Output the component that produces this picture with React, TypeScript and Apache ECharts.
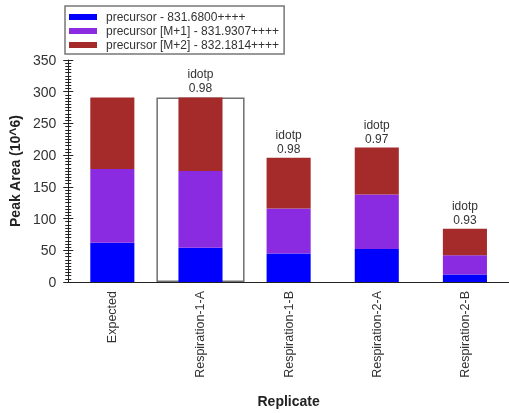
import React, { useEffect, useRef } from "react";
import * as echarts from "echarts";

const categories = ["Expected", "Respiration-1-A", "Respiration-1-B", "Respiration-2-A", "Respiration-2-B"];
const seriesNames = [
  "precursor - 831.6800++++",
  "precursor [M+1] - 831.9307++++",
  "precursor [M+2] - 832.1814++++",
];
const precursor = [62, 54, 45, 52, 12];
const precursorM1 = [116, 121, 71, 86, 30];
const precursorM2 = [113, 116, 80, 74, 42];
const idotp: (string | null)[] = [null, "0.98", "0.98", "0.97", "0.93"];
const selectedIndex = 1;
const yTicks = { min: 0, max: 350, interval: 50 };
const colors = ["#0000FF", "#8A2BE2", "#A52A2A"];

export default function App() {
  const ref = useRef<HTMLDivElement>(null);
  useEffect(() => {
    if (!ref.current) return;
    const chart = echarts.init(ref.current, undefined, { renderer: "svg" });
    const totals = categories.map((_, i) => precursor[i] + precursorM1[i] + precursorM2[i]);
    const boxData = categories.map((_, i) => (i === selectedIndex ? totals[i] : null));
    const font = "Liberation Sans, Arial, sans-serif";
    const stackSeries = [precursor, precursorM1, precursorM2].map((d, si) => ({
      name: seriesNames[si],
      type: "bar",
      stack: "total",
      xAxisIndex: 0,
      yAxisIndex: 0,
      barWidth: "50%",
      z: 3,
      itemStyle: { color: colors[si] },
      data: d.map((v, i) =>
        si === 2
          ? {
              value: v,
              label: {
                show: idotp[i] != null,
                position: "top",
                distance: 2,
                formatter: "idotp\n" + (idotp[i] ?? ""),
                color: "#333",
                fontSize: 12,
                lineHeight: 14,
                fontFamily: font,
              },
            }
          : v
      ),
    }));
    chart.setOption({
      animation: false,
      textStyle: { fontFamily: font },
      legend: {
        orient: "vertical",
        left: 65,
        top: 6,
        data: seriesNames,
        icon: "rect",
        itemWidth: 28,
        itemHeight: 6,
        itemGap: 0,
        padding: [4, 5, 2, 4],
        borderColor: "#777",
        borderWidth: 1.5,
        backgroundColor: "#fff",
        selectedMode: false,
        textStyle: { fontSize: 12, lineHeight: 14, color: "#333", fontFamily: font, padding: [0, 0, 0, 4] },
      },
      grid: { left: 64, right: 0, top: 60, bottom: 123, containLabel: false },
      xAxis: [
        {
          type: "category",
          data: categories,
          name: "Replicate",
          nameLocation: "middle",
          nameGap: 112,
          nameTextStyle: { fontWeight: "bold", fontSize: 14, color: "#222", fontFamily: font },
          axisLine: { lineStyle: { color: "#222", width: 1 } },
          axisTick: { alignWithLabel: true, length: 6, lineStyle: { color: "#222" } },
          axisLabel: { rotate: 90, fontSize: 12.5, color: "#333", margin: 9, fontFamily: font, interval: 0 },
        },
        {
          type: "category",
          data: categories,
          show: false,
        },
      ],
      yAxis: [
        {
          type: "value",
          min: yTicks.min,
          max: yTicks.max,
          interval: yTicks.interval,
          position: "left",
          name: "Peak Area (10^6)",
          nameLocation: "middle",
          nameGap: 46,
          nameTextStyle: { fontWeight: "bold", fontSize: 14, color: "#222", fontFamily: font },
          axisLine: { show: true, lineStyle: { color: "#222" } },
          axisTick: { show: true, length: 5, lineStyle: { color: "#222" } },
          minorTick: { show: true, splitNumber: 10, length: 3, lineStyle: { color: "#222" } },
          axisLabel: { fontSize: 14, color: "#333", margin: 12, fontFamily: font },
          splitLine: { show: false },
        },
        {
          type: "value",
          min: yTicks.min,
          max: yTicks.max,
          interval: yTicks.interval,
          position: "left",
          axisLine: { show: false },
          axisTick: { show: true, inside: true, length: 5, lineStyle: { color: "#222" } },
          minorTick: { show: true, splitNumber: 10, length: 3, lineStyle: { color: "#222" } },
          axisLabel: { show: false },
          splitLine: { show: false },
        },
      ],
      series: [
        {
          name: "selected",
          type: "bar",
          xAxisIndex: 1,
          yAxisIndex: 0,
          barWidth: "100%",
          z: 1,
          itemStyle: { color: "#fff", borderColor: "#707070", borderWidth: 1.5 },
          data: boxData,
        },
        ...stackSeries,
      ],
    });
    return () => chart.dispose();
  }, []);
  return <div ref={ref} style={{ position: "fixed", left: 0, top: 0, width: 509, height: 413 }} />;
}
